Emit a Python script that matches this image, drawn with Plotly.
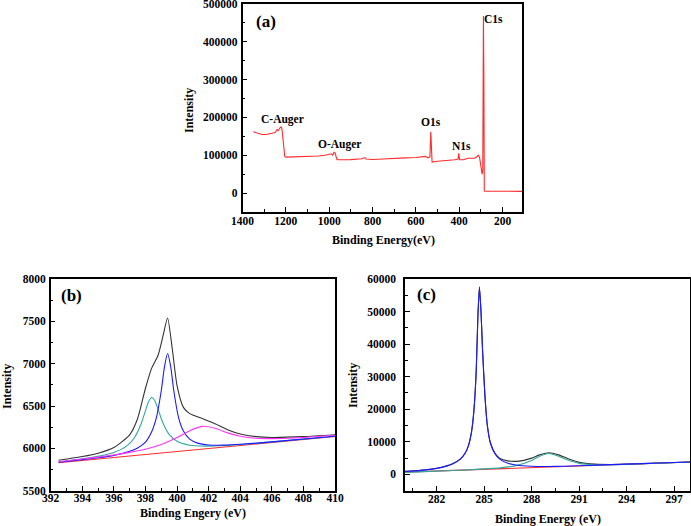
import plotly.graph_objects as go

W, H = 691, 526

# ---------------- (a) survey spectrum ----------------
survey_be = [1350, 1330, 1310, 1290, 1270, 1250, 1240, 1235, 1228, 1222, 1218, 1212, 1205, 1200,
             1150, 1100, 1080, 1050, 1020, 1000, 990, 983, 978, 972, 965, 960, 900, 850, 835, 830,
             800, 750, 710, 700, 650, 600, 565, 555, 545, 538, 535, 531, 528, 525, 500, 450, 420,
             405, 402, 398, 380, 360, 340, 330, 318, 312, 306, 300, 297, 294, 291, 290, 288, 286,
             284, 282, 250, 200, 110]
survey_int = [162000, 158000, 155000, 155000, 157000, 160000, 168000, 165000, 172000, 175000, 170000,
              130000, 97000, 95000, 96000, 97000, 96000, 98000, 100000, 103000, 104000, 100000,
              108000, 106000, 90000, 88000, 88500, 91000, 94000, 90000, 89000, 90000, 92000, 91000,
              93000, 94000, 96000, 97000, 93000, 95000, 96000, 162000, 95000, 82000, 84000, 86000,
              88000, 90000, 105000, 88000, 88000, 92000, 93000, 92000, 96000, 100000, 95000, 75000,
              55000, 50000, 60000, 180000, 468000, 300000, 6000, 5200, 5000, 4500, 4500]
survey_labels = ["C-Auger", "O-Auger", "O1s", "N1s", "C1s"]
survey_label_x = [1214, 951, 528, 388, 240]
survey_label_y = [194500, 129700, 188700, 125700, 459800]

# ---------------- (b) N1s high resolution ----------------
n_bg_x = [392.5, 410]
n_bg_y = [5830, 6140]
n_cyan_x = [392.5, 394, 395, 396, 396.8, 397.3, 397.7, 398, 398.2, 398.4, 398.6, 398.8, 399.1,
            399.5, 400, 400.8, 401.8, 403, 404.5, 406, 410]
n_cyan_y = [5841, 5876, 5905, 5951, 6026, 6126, 6278, 6446, 6553, 6600, 6560, 6460, 6303,
            6165, 6083, 6036, 6026, 6033, 6052, 6076, 6143]
n_blue_x = [392.5, 394, 395, 396, 397, 397.5, 398, 398.4, 398.7, 399, 399.2, 399.4, 399.6,
            399.8, 400.1, 400.4, 400.8, 401.3, 402, 403, 404, 406, 410]
n_blue_y = [5836, 5867, 5889, 5917, 5965, 6005, 6075, 6200, 6370, 6680, 6960, 7120, 6963,
            6671, 6360, 6204, 6109, 6062, 6040, 6038, 6048, 6076, 6143]
n_mag_x = [392.5, 394, 395, 396, 397, 398, 399, 400, 400.8, 401.6, 402.4, 403.2, 404, 405,
           406, 407, 408, 410]
n_mag_y = [5842, 5874, 5897, 5922, 5953, 5990, 6045, 6127, 6209, 6260, 6237, 6183, 6144, 6120,
           6115, 6119, 6128, 6154]
n_sum_x = [392.5, 394, 395, 396, 397, 397.5, 398, 398.4, 398.8, 399.1, 399.4, 399.7, 400,
           400.4, 400.8, 401.6, 402.4, 403.2, 404, 405, 406, 408, 410]
n_sum_y = [5859, 5903, 5943, 6010, 6160, 6350, 6710, 6950, 7100, 7320, 7540, 7170, 6740,
           6484, 6410, 6352, 6292, 6221, 6170, 6139, 6129, 6138, 6160]

# ---------------- (c) C1s high resolution ----------------
c_bg_x = [280, 298]
c_bg_y = [700, 3800]
c_blue_x = [280, 281, 282, 282.5, 283, 283.5, 283.8, 284, 284.2, 284.35, 284.5, 284.6, 284.7,
            284.8, 284.9, 285.05, 285.2, 285.4, 285.7, 286, 286.5, 287, 288, 289, 290, 291,
            292, 294, 296, 298]
c_blue_y = [900, 1250, 1850, 2400, 3200, 4700, 6500, 8700, 13000, 19500, 32000, 48000, 57500,
            50000, 38000, 24000, 15000, 9500, 6200, 4600, 3400, 2900, 2500, 2450, 2500, 2650,
            2850, 3150, 3500, 3800]
c_cyan_x = [280, 282, 284, 285, 286, 287, 288, 288.5, 289.1, 289.7, 290.3, 291, 292, 293, 294,
            296, 298]
c_cyan_y = [620, 1000, 1400, 1700, 2000, 2700, 4300, 5600, 6400, 5600, 4400, 3400, 2950, 2950,
            3100, 3450, 3800]
c_sum_x = [280, 281, 282, 282.5, 283, 283.5, 283.8, 284, 284.2, 284.35, 284.5, 284.6, 284.7,
           284.8, 284.9, 285.05, 285.2, 285.4, 285.7, 286, 286.5, 287, 287.5, 288, 288.5, 289.1,
           289.7, 290.3, 291, 292, 293, 294, 296, 298]
c_sum_y = [950, 1300, 1900, 2450, 3250, 4750, 6550, 8750, 13050, 19550, 32050, 48050, 57550,
           50050, 38050, 24100, 15100, 9650, 6400, 4900, 4150, 4000, 4300, 5000, 6000, 6650,
           6000, 4800, 3700, 3150, 3050, 3150, 3480, 3800]

FONT = "Liberation Serif"
RED = "#ff2a2a"
BLUE = "#1a1aff"
CYAN = "#2fa8a0"
MAG = "#ff33ff"
BLACK = "#333333"

fig = go.Figure()

def add(x, y, color, xa, ya, shape="spline", width=1.1):
    fig.add_trace(go.Scatter(x=x, y=y, mode="lines", xaxis=xa, yaxis=ya,
                             line=dict(color=color, width=width, shape=shape, smoothing=0.6),
                             showlegend=False, hoverinfo="skip"))

# (a)
add(survey_be, survey_int, RED, "x", "y", shape="linear", width=1.1)
# (b)
add(n_sum_x, n_sum_y, BLACK, "x2", "y2")
add(n_bg_x, n_bg_y, RED, "x2", "y2", shape="linear")
add(n_cyan_x, n_cyan_y, CYAN, "x2", "y2")
add(n_blue_x, n_blue_y, BLUE, "x2", "y2")
add(n_mag_x, n_mag_y, MAG, "x2", "y2")
# (c)
add(c_sum_x, c_sum_y, BLACK, "x3", "y3")
add(c_bg_x, c_bg_y, RED, "x3", "y3", shape="linear")
add(c_cyan_x, c_cyan_y, CYAN, "x3", "y3")
add(c_blue_x, c_blue_y, BLUE, "x3", "y3")

tickfont = dict(family=FONT, size=11.5, color="black", weight="bold")
titlefont = dict(family=FONT, size=12, color="black", weight="bold")

def axis_common():
    return dict(showline=True, linecolor="black", linewidth=1.5, mirror=True,
                ticks="inside", ticklen=5, tickwidth=1.2, tickcolor="black",
                showgrid=False, zeroline=False, tickfont=tickfont, automargin=False,
                ticklabeloverflow="allow")

def minor(dt):
    return dict(dtick=dt, ticks="inside", ticklen=3, tickwidth=1.2, tickcolor="black", showgrid=False)

ya_top, ya_bot = 1 - 4 / H, 1 - 212 / H
yb_top, yb_bot = 1 - 279 / H, 1 - 490.7 / H

fig.update_layout(
    width=W, height=H, margin=dict(l=0, r=0, t=0, b=0, autoexpand=False),
    paper_bgcolor="white", plot_bgcolor="white",
    xaxis=dict(**axis_common(), domain=[242.5 / W, 522 / W], range=[1400, 110],
               tick0=1400, dtick=200, minor=minor(100), anchor="y", ticklabelstandoff=-3),
    yaxis=dict(**axis_common(), domain=[ya_bot, ya_top], range=[-50000, 500000],
               tick0=0, dtick=100000, minor=minor(50000), tickformat="d", anchor="x",
               ticklabelstandoff=1),
    xaxis2=dict(**axis_common(), domain=[50.7 / W, 335 / W], range=[392, 410],
                tick0=392, dtick=2, minor=minor(1), anchor="y2", ticklabelstandoff=-4),
    yaxis2=dict(**axis_common(), domain=[yb_bot, yb_top], range=[5500, 8000],
                tick0=5500, dtick=500, minor=minor(250), anchor="x2", ticklabelstandoff=1),
    xaxis3=dict(**axis_common(), domain=[405 / W, 690 / W], range=[280, 298],
                tick0=282, dtick=3, minor=minor(1.5), anchor="y3", ticklabelstandoff=-3),
    yaxis3=dict(**axis_common(), domain=[yb_bot, yb_top], range=[-5000, 60000],
                tick0=0, dtick=10000, minor=minor(5000), tickformat="d", anchor="x3",
                ticklabelstandoff=5),
)

labelfont = dict(family=FONT, size=11.5, color="black", weight="bold")
for t, lx, ly in zip(survey_labels, survey_label_x, survey_label_y):
    fig.add_annotation(x=lx, y=ly, xref="x", yref="y", text=t, showarrow=False, font=labelfont)

panelfont = dict(family=FONT, size=17, color="black", weight="bold")
fig.add_annotation(x=1290, y=455000, xref="x", yref="y", text="(a)", showarrow=False, font=panelfont)
fig.add_annotation(x=393.33, y=7811, xref="x2", yref="y2", text="(b)", showarrow=False, font=panelfont)
fig.add_annotation(x=281.37, y=55090, xref="x3", yref="y3", text="(c)", showarrow=False, font=panelfont)

# axis titles (paper pixel positions)
axis_titles = [("Intensity", 189, 111, -90), ("Binding Energy(eV)", 383, 240, 0),
               ("Intensity", 7, 387, -90), ("Binding Engery (eV)", 193, 513, 0),
               ("Intensity", 353, 386, -90), ("Binding Energy (eV)", 548, 519, 0)]
for t, px, py, ang in axis_titles:
    fig.add_annotation(x=px / W, y=1 - py / H, xref="paper", yref="paper", text=t,
                       showarrow=False, textangle=ang, font=titlefont,
                       xanchor="center", yanchor="middle")

fig.write_html("out.html", config={"displayModeBar": False},
               post_script="document.body.style.margin='0';document.body.style.overflow='hidden';")
